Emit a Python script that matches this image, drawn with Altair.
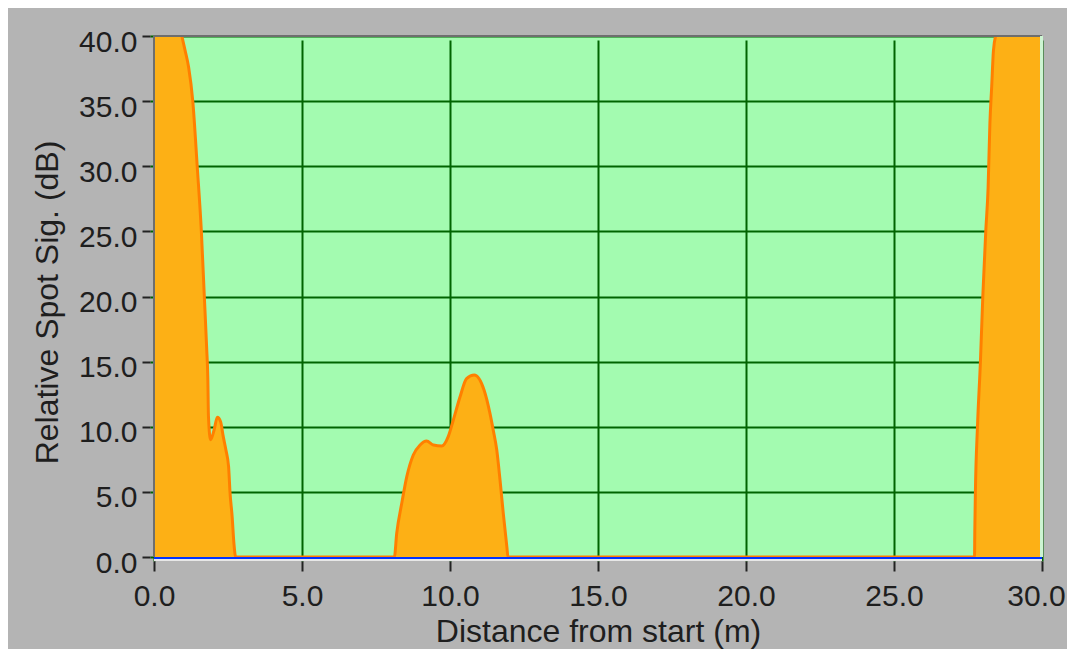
import altair as alt
import pandas as pd

# Distance from start (m) and relative spot signal (dB)
dist = [0.0, 0.5, 0.94, 1.05, 1.17, 1.31, 1.46, 1.6, 1.7, 1.78, 1.82, 1.84, 1.91, 2.03, 2.14,
        2.25, 2.34, 2.43, 2.52, 2.57, 2.64, 2.70, 2.76,
        8.12, 8.2, 8.37, 8.54, 8.76, 8.99, 9.21, 9.44, 9.72, 9.94, 10.11, 10.34, 10.56, 10.82,
        11.15, 11.35, 11.46, 11.58, 11.69, 11.80, 11.92, 11.96,
        27.72, 27.73, 27.75, 27.82, 27.92, 28.0, 28.1, 28.18, 28.24, 28.3, 28.36, 28.46,
        28.8, 29.3, 30.0]
sig = [46, 43.5, 40, 38.9, 37.6, 35, 30, 25, 20, 16, 13.6, 10.8, 9.0, 9.75, 10.73,
       10.39, 9.24, 8.21, 6.93, 4.89, 3.1, 1.05, 0,
       0, 1.82, 4.12, 6.17, 7.83, 8.6, 8.9, 8.6, 8.52, 9.24, 10.5, 12.3, 13.7, 13.97,
       12.82, 11.03, 9.75, 8.21, 5.91, 3.35, 0.79, 0,
       0, 2, 5, 10, 15, 20, 25, 28.4, 33.3, 36.1, 38.9, 40.3,
       43, 45, 46]

x_ticks = [0, 5, 10, 15, 20, 25, 30]
y_ticks = [0, 5, 10, 15, 20, 25, 30, 35, 40]

df = pd.DataFrame({"dist": dist, "sig": sig})

FONT = "Liberation Sans"
TXT = "#1e1e1e"

x_enc = alt.X("dist:Q", title="Distance from start (m)",
              scale=alt.Scale(domain=[0, 30], nice=False, zero=False),
              axis=alt.Axis(values=x_ticks, format=".1f",
                            labelOffset={"condition": {"test": "datum.value == 30", "value": -6},
                                         "value": 0}))
y_enc = alt.Y("sig:Q", title="Relative Spot Sig. (dB)",
              scale=alt.Scale(domain=[0, 40], nice=False),
              axis=alt.Axis(values=y_ticks, format=".1f"))

base = alt.Chart(df)
area = base.mark_area(color="#fdb015", clip=True, opacity=1,
                      interpolate="monotone").encode(x=x_enc, y=y_enc)
line = base.mark_line(color="#ff8000", strokeWidth=3, clip=True,
                      interpolate="monotone").encode(x=x_enc, y=y_enc)

blue = base.mark_rule(color="#0033ff", strokeWidth=2, yOffset=1).encode(y=alt.datum(0))
below = base.mark_rule(color="#e8e8e8", strokeWidth=1.5, yOffset=2.8).encode(y=alt.datum(0))
left = base.mark_rule(color="#6e6e6e", strokeWidth=2).encode(x=alt.datum(0))
top = base.mark_rule(color="#6e6e6e", strokeWidth=2).encode(y=alt.datum(40))
right = base.mark_rule(color="#cdf5d2", strokeWidth=3, xOffset=-0.5).encode(x=alt.datum(30))

chart = alt.layer(area, line, blue, below, left, top, right).properties(
    width=888, height=521,
    autosize=alt.AutoSizeParams(type="none"),
    padding={"left": 146, "top": 28, "right": 25, "bottom": 92},
    background="#b4b4b4",
).configure_view(
    fill="#a3fbb0", stroke=None
).configure_axis(
    grid=True, gridColor="#006400", gridWidth=2,
    domain=False,
    tickColor="#222222", tickWidth=2,
    labelFont=FONT, labelFontSize=30, labelColor=TXT,
    labelFlush=False, labelOverlap=False,
    titleFont=FONT, titleFontSize=32, titleFontWeight="normal", titleColor=TXT,
).configure_axisX(
    offset=4, tickSize=10, labelPadding=10,
    titleY=80, titleBaseline="alphabetic",
).configure_axisY(
    offset=4, tickSize=8, labelPadding=5, labelOffset=6,
    labelBaseline="middle",
    titleX=-93, titleY=266, titleAlign="center", titleBaseline="alphabetic", titleAngle=270,
)

chart.save("out.html", embed_options={"renderer": "svg", "actions": False})
